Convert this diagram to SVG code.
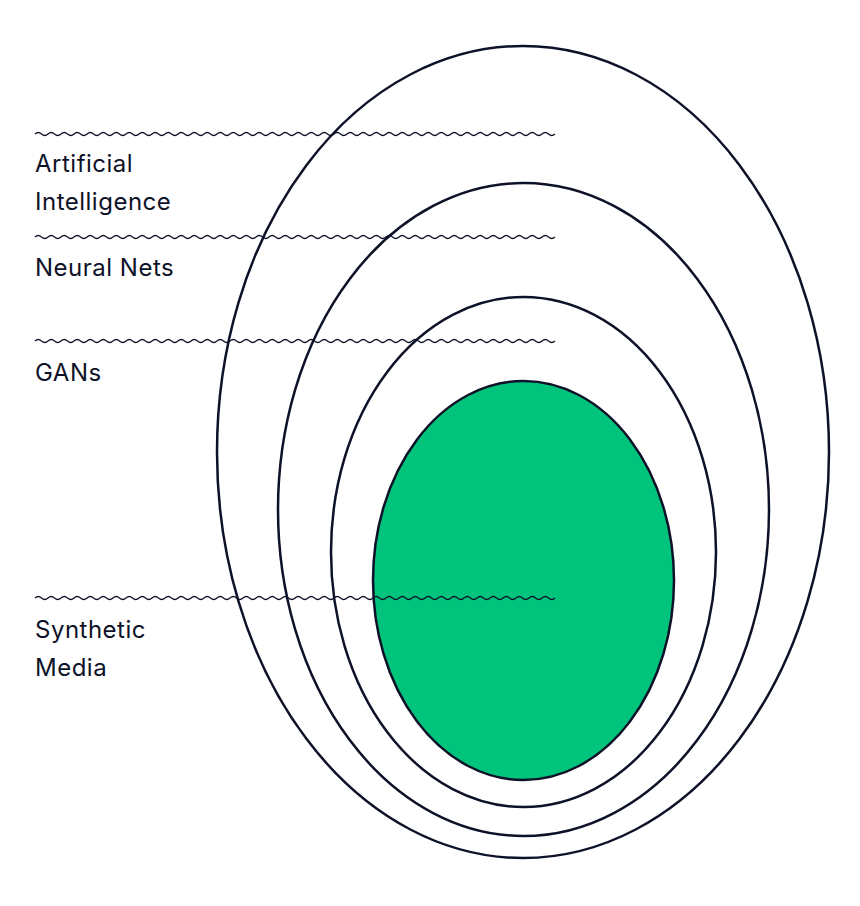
<svg xmlns="http://www.w3.org/2000/svg" width="860" height="906" viewBox="0 0 860 906">
<style>
.e{fill:none;stroke:#0e1228;stroke-width:2.5}
.w{fill:none;stroke:#0e1228;stroke-width:1.2}
text{font-family:Inter,"Noto Sans",sans-serif;font-size:24px;fill:#0e1228;letter-spacing:0.5px}
</style>
<defs>
<path id="wave" d="M35,0 q3.25,-3 6.5,0 t6.5,0 t6.5,0 t6.5,0 t6.5,0 t6.5,0 t6.5,0 t6.5,0 t6.5,0 t6.5,0 t6.5,0 t6.5,0 t6.5,0 t6.5,0 t6.5,0 t6.5,0 t6.5,0 t6.5,0 t6.5,0 t6.5,0 t6.5,0 t6.5,0 t6.5,0 t6.5,0 t6.5,0 t6.5,0 t6.5,0 t6.5,0 t6.5,0 t6.5,0 t6.5,0 t6.5,0 t6.5,0 t6.5,0 t6.5,0 t6.5,0 t6.5,0 t6.5,0 t6.5,0 t6.5,0 t6.5,0 t6.5,0 t6.5,0 t6.5,0 t6.5,0 t6.5,0 t6.5,0 t6.5,0 t6.5,0 t6.5,0 t6.5,0 t6.5,0 t6.5,0 t6.5,0 t6.5,0 t6.5,0 t6.5,0 t6.5,0 t6.5,0 t6.5,0 t6.5,0 t6.5,0 t6.5,0 t6.5,0 t6.5,0 t6.5,0 t6.5,0 t6.5,0 t6.5,0 t6.5,0 t6.5,0 t6.5,0 t6.5,0 t6.5,0 t6.5,0 t6.5,0 t6.5,0 t6.5,0 t6.5,0 t6.5,0"/>
</defs>
<rect width="860" height="906" fill="#fff"/>
<g id="ai"><ellipse class="e" cx="523" cy="452" rx="306" ry="406"/></g>
<g id="nn"><ellipse class="e" cx="523.5" cy="509.5" rx="245.5" ry="326.5"/></g>
<g id="gans"><ellipse class="e" cx="523.5" cy="552" rx="192.5" ry="255"/></g>
<g id="sm"><ellipse cx="523.5" cy="580.5" rx="150.5" ry="199.5" fill="#00c47b" stroke="#0e1228" stroke-width="2.5"/></g>
<g id="connectors">
<use href="#wave" class="w" y="134"/>
<use href="#wave" class="w" y="237"/>
<use href="#wave" class="w" y="341"/>
<use href="#wave" class="w" y="598"/>
</g>
<g id="labels">
<text x="35" y="172">Artificial</text>
<text x="35" y="210">Intelligence</text>
<text x="35" y="276">Neural Nets</text>
<text x="35" y="381">GANs</text>
<text x="35" y="638">Synthetic</text>
<text x="35" y="676">Media</text>
</g>
</svg>
